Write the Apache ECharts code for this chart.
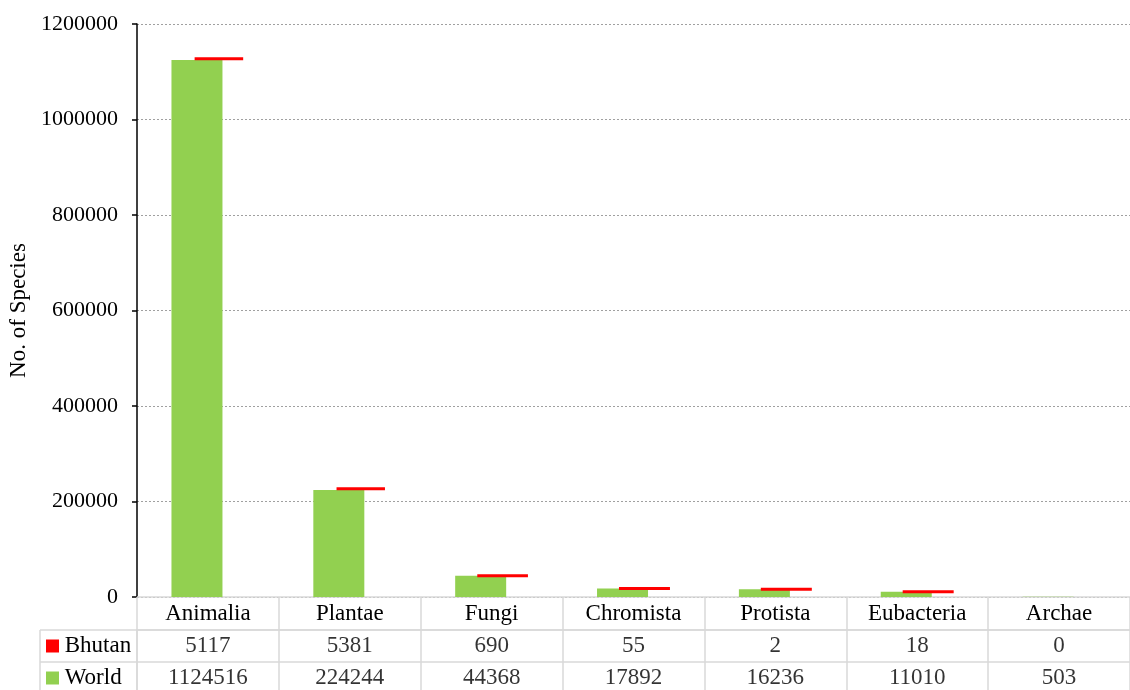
<!DOCTYPE html>
<html><head><meta charset="utf-8">
<script src="https://cdn.jsdelivr.net/npm/echarts@6/dist/echarts.min.js"></script>
<style>html,body{margin:0;padding:0;background:#fff}#c{width:1130px;height:690px}</style>
</head><body><div id="c"></div>
<script>
const categories = ['Animalia','Plantae','Fungi','Chromista','Protista','Eubacteria','Archae'];
const bhutan = [5117, 5381, 690, 55, 2, 18, 0];
const world = [1124516, 224244, 44368, 17892, 16236, 11010, 503];
const rowNames = ['Bhutan','World'];
const yTicks = {min: 0, max: 1200000, interval: 200000};

const FONT = '"Liberation Serif", "Times New Roman", serif';
const GREEN = '#92d050', RED = '#ff0000', LINE = '#d9d9d9';

const tableData = [];
categories.forEach((c, i) => {
  tableData.push([i, 'Bhutan', bhutan[i]]);
  tableData.push([i, 'World', world[i]]);
});

const chart = echarts.init(document.getElementById('c'));
chart.setOption({
  animation: false,
  textStyle: {fontFamily: FONT},
  grid: [
    {left: 137, right: 0, top: 24, height: 573, containLabel: false, outerBoundsMode: 'none'},
    {left: 137, right: 0, top: 630, height: 64, containLabel: false, outerBoundsMode: 'none'}
  ],
  xAxis: [
    {type: 'category', gridIndex: 0, data: categories,
     axisLine: {lineStyle: {color: LINE, width: 1.5}},
     axisTick: {show: true, length: 33, lineStyle: {color: LINE, width: 1.5}},
     axisLabel: {color: '#000', fontSize: 23, fontFamily: FONT, margin: 5, interval: 0},
     splitLine: {show: false}},
    {type: 'category', gridIndex: 1, data: categories, position: 'top',
     axisLine: {show: true, lineStyle: {color: LINE, width: 1.5}},
     axisTick: {show: false}, axisLabel: {show: false},
     splitLine: {show: true, interval: 0, lineStyle: {color: LINE, width: 1.5}}}
  ],
  yAxis: [
    {type: 'value', gridIndex: 0, min: yTicks.min, max: yTicks.max, interval: yTicks.interval,
     name: 'No. of Species', nameLocation: 'middle', nameGap: 106,
     nameTextStyle: {color: '#000', fontSize: 23, fontFamily: FONT},
     axisLine: {show: true, lineStyle: {color: '#000', width: 1.5}},
     axisTick: {show: true, length: 5, lineStyle: {color: '#000', width: 1.5}},
     axisLabel: {color: '#000', fontSize: 22, fontFamily: FONT, margin: 19, formatter: v => String(v)},
     splitLine: {show: true, lineStyle: {color: '#a0a0a0', type: [2, 2], width: 1}}},
    {type: 'category', gridIndex: 1, data: rowNames, inverse: true,
     axisLine: {show: true, lineStyle: {color: LINE, width: 1.5}},
     axisTick: {show: true, length: 97, lineStyle: {color: LINE, width: 1.5}},
     splitLine: {show: true, lineStyle: {color: LINE, width: 1.5}},
     axisLabel: {show: true, align: 'left', margin: 91, fontSize: 23, color: '#000', fontFamily: FONT,
       formatter: v => (v === 'Bhutan' ? '{r|}' : '{g|}') + ' ' + v,
       rich: {r: {backgroundColor: RED, width: 13, height: 13},
              g: {backgroundColor: GREEN, width: 13, height: 13}}}}
  ],
  series: [
    {name: 'World', type: 'bar', xAxisIndex: 0, yAxisIndex: 0, data: world,
     barWidth: 51, barGap: '-57%', itemStyle: {color: GREEN}},
    {name: 'base', type: 'bar', stack: 'b', xAxisIndex: 0, yAxisIndex: 0, data: world,
     barWidth: 51, itemStyle: {color: 'rgba(0,0,0,0)'}, silent: true},
    {name: 'Bhutan', type: 'bar', stack: 'b', xAxisIndex: 0, yAxisIndex: 0, barWidth: 51,
     data: bhutan.map(v => ({value: v, itemStyle: {color: RED, borderColor: RED, borderWidth: v > 0 ? 3 : 0, opacity: v > 0 ? 1 : 0}}))},
    {name: 'table', type: 'scatter', xAxisIndex: 1, yAxisIndex: 1, data: tableData,
     symbolSize: 1, itemStyle: {color: 'rgba(0,0,0,0)'},
     label: {show: true, position: 'inside', color: '#000', fontSize: 23, fontFamily: FONT,
       formatter: p => String(p.value[2])}}
  ],
  graphic: [
    {type: 'line', shape: {x1: 40, y1: 630, x2: 40, y2: 694}, style: {stroke: LINE, lineWidth: 1.5}}
  ]
});
</script></body></html>
